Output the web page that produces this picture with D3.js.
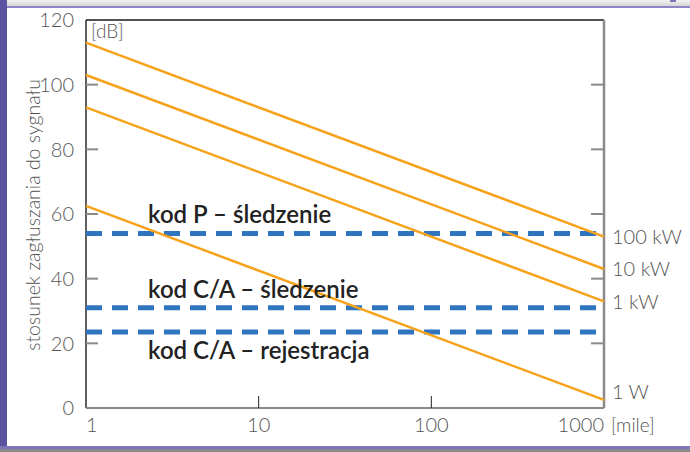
<!DOCTYPE html>
<html>
<head>
<meta charset="utf-8">
<script src="https://cdn.jsdelivr.net/npm/d3@7"></script>
<style>
  body { margin: 0; background: #5a539f; }
  svg { display: block; }
</style>
</head>
<body>
<div id="chart"></div>
<script>
// ------------------------------------------------------------------
//  jamming-to-signal ratio vs distance
// ------------------------------------------------------------------
const distances = [1, 1000]                       // [mile]
const powerLabels = ["100 kW", "10 kW", "1 kW", "1 W"]
const jsAtStart = [113, 103, 93, 62.5]            // dB at 1 mile
const jsAtEnd = [53, 43, 33, 2.5]                 // dB at 1000 miles
const thresholdLabels = ["kod P – śledzenie", "kod C/A – śledzenie", "kod C/A – rejestracja"]
const thresholdValues = [54, 31, 23.5]
const yTicks = [0, 20, 40, 60, 80, 100, 120]
const xTicks = [1, 10, 100, 1000]

const W = 690, H = 452
const margin = { top: 20, right: 86, bottom: 44, left: 86 }
const width = W - margin.left - margin.right
const height = H - margin.top - margin.bottom

const svg = d3.select("#chart").append("svg")
    .attr("width", W)
    .attr("height", H)

// page background / panel
const defs = svg.append("defs")
const grad = defs.append("linearGradient").attr("id", "topbar").attr("x1", 0).attr("y1", 0).attr("x2", 0).attr("y2", 1)
grad.append("stop").attr("offset", "0%").attr("stop-color", "#f2f2f2")
grad.append("stop").attr("offset", "100%").attr("stop-color", "#d6d6d6")

svg.append("rect").attr("width", W).attr("height", H).attr("fill", "#5a539f")
svg.append("rect").attr("x", 7).attr("y", 0).attr("width", W - 7).attr("height", 6).attr("fill", "url(#topbar)")
svg.append("rect").attr("x", 670).attr("y", 0).attr("width", 6).attr("height", 2).attr("fill", "#7c76bb")
svg.append("rect").attr("x", 7).attr("y", 6).attr("width", W - 7).attr("height", 2).attr("fill", "#8c86c6")
svg.append("rect").attr("x", 7).attr("y", 8).attr("width", W - 7).attr("height", 438).attr("fill", "#ffffff")
svg.append("rect").attr("x", 0).attr("y", 446).attr("width", W).attr("height", 3).attr("fill", "#7d77b8")
svg.append("rect").attr("x", 0).attr("y", 449).attr("width", W).attr("height", 3).attr("fill", "#8a8a8a")

const g = svg.append("g")
    .attr("transform", "translate(" + margin.left + "," + margin.top + ")")

const x = d3.scaleLog().domain([1, 1000]).range([0, width])
const y = d3.scaleLinear().domain([0, 120]).range([height, 0])

const lightFont = "'Lato', 'Open Sans', sans-serif"
const boldFont = "'Lato', 'Noto Sans', sans-serif"

// frame
g.append("line").attr("x1", 0).attr("x2", width).attr("y1", 0).attr("y2", 0)
    .attr("stroke", "#1a1a1a").attr("stroke-width", 1.5)
g.append("line").attr("x1", 0).attr("x2", 0).attr("y1", 0).attr("y2", height)
    .attr("stroke", "#2a2a2a").attr("stroke-width", 1.5)
g.append("line").attr("x1", 0).attr("x2", width).attr("y1", height).attr("y2", height)
    .attr("stroke", "#8a8a8a").attr("stroke-width", 2)
g.append("line").attr("x1", width).attr("x2", width).attr("y1", 0).attr("y2", height)
    .attr("stroke", "#8a8a8a").attr("stroke-width", 2.5)

// y ticks (inside, both sides)
const innerY = yTicks.filter(function (d) { return d > 0 && d < 120 })
g.selectAll(".ytl").data(innerY).enter().append("line")
    .attr("x1", 0).attr("x2", 12)
    .attr("y1", function (d) { return y(d) }).attr("y2", function (d) { return y(d) })
    .attr("stroke", "#8a8a8a").attr("stroke-width", 2)
g.selectAll(".ytr").data(innerY).enter().append("line")
    .attr("x1", width - 13).attr("x2", width)
    .attr("y1", function (d) { return y(d) }).attr("y2", function (d) { return y(d) })
    .attr("stroke", "#8a8a8a").attr("stroke-width", 2)

g.selectAll(".ylab").data(yTicks).enter().append("text")
    .attr("x", -12)
    .attr("y", function (d) { return y(d) })
    .attr("dy", "0.36em")
    .attr("text-anchor", "end")
    .attr("font-family", lightFont).attr("font-weight", 300)
    .attr("font-size", 20).attr("fill", "#555")
    .text(function (d) { return d })

// x ticks
g.selectAll(".xt").data(xTicks.slice(1, 3)).enter().append("line")
    .attr("x1", function (d) { return x(d) }).attr("x2", function (d) { return x(d) })
    .attr("y1", height - 12).attr("y2", height)
    .attr("stroke", "#222").attr("stroke-width", 1)

g.selectAll(".xlab").data(xTicks).enter().append("text")
    .attr("x", function (d, i) { return x(d) })
    .attr("y", height + 24)
    .attr("text-anchor", function (d, i) { return i == 0 ? "start" : (i == xTicks.length - 1 ? "end" : "middle") })
    .attr("font-family", lightFont).attr("font-weight", 300)
    .attr("font-size", 20).attr("fill", "#555")
    .text(function (d) { return d })

g.append("text")
    .attr("x", x(1000) + 7).attr("y", height + 24)
    .attr("font-family", lightFont).attr("font-weight", 300)
    .attr("font-size", 19).attr("fill", "#555")
    .text("[mile]")

g.append("text")
    .attr("x", 5).attr("y", 18)
    .attr("font-family", lightFont).attr("font-weight", 300)
    .attr("font-size", 19).attr("fill", "#555")
    .text("[dB]")

// y title
svg.append("text")
    .attr("transform", "translate(40," + 215 + ") rotate(-90)")
    .attr("text-anchor", "middle")
    .attr("font-family", lightFont).attr("font-weight", 300)
    .attr("font-size", 19.5).attr("fill", "#555")
    .text("stosunek zagłuszania do sygnału")

// thresholds (blue dashed)
g.selectAll(".thr").data(thresholdValues).enter().append("line")
    .attr("x1", 0).attr("x2", width)
    .attr("y1", function (d) { return y(d) }).attr("y2", function (d) { return y(d) })
    .attr("stroke", "#2f74bf").attr("stroke-width", 5)
    .attr("stroke-dasharray", "16,10")

// power lines (orange)
const lines = powerLabels.map(function (p, i) {
    return { label: p, values: [jsAtStart[i], jsAtEnd[i]] }
})
const line = d3.line()
    .x(function (d, i) { return x(distances[i]) })
    .y(function (d) { return y(d) })

g.selectAll(".pl").data(lines).enter().append("path")
    .attr("d", function (d) { return line(d.values) })
    .attr("fill", "none")
    .attr("stroke", "#f7a21b").attr("stroke-width", 2.5)

g.selectAll(".plab").data(lines).enter().append("text")
    .attr("x", width + 8)
    .attr("y", function (d, i) { return y(d.values[1]) + (i == lines.length - 1 ? -8 : 0) })
    .attr("dy", "0.36em")
    .attr("font-family", lightFont).attr("font-weight", 300)
    .attr("font-size", 20).attr("fill", "#555")
    .text(function (d) { return d.label })

// threshold labels
g.selectAll(".tlab").data(thresholdLabels).enter().append("text")
    .attr("x", 62)
    .attr("y", function (d, i) { return y(thresholdValues[i]) + (i == 2 ? 27 : -10) })
    .attr("font-family", boldFont).attr("font-weight", 600)
    .attr("font-size", 24).attr("fill", "#222")
    .text(function (d) { return d })
</script>
</body>
</html>
